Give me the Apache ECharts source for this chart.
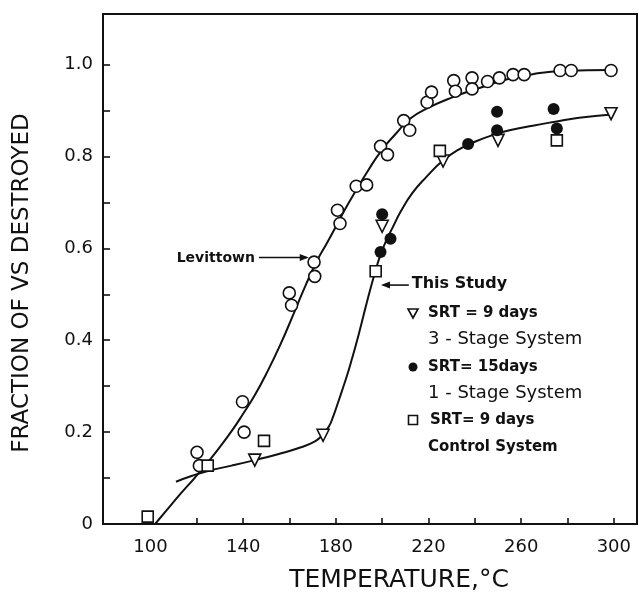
<!DOCTYPE html>
<html>
<head>
<meta charset="utf-8">
<script src="https://cdn.jsdelivr.net/npm/echarts@6/dist/echarts.min.js"></script>
<style>
  html, body { margin: 0; padding: 0; background: #fff; }
  #chart { width: 639px; height: 594px; }
</style>
</head>
<body>
<div id="chart"></div>
<script>
// Temperature (°C) vs fraction of volatile solids destroyed

// Levittown data (open circles)
const levittownPoints = [
  [120.1, 0.156], [121.1, 0.127], [139.7, 0.266], [140.4, 0.200],
  [159.9, 0.503], [160.9, 0.476], [170.6, 0.570], [170.9, 0.539],
  [180.7, 0.683], [181.8, 0.654], [188.8, 0.735], [193.3, 0.738],
  [199.3, 0.822], [202.3, 0.804], [209.3, 0.878], [211.9, 0.857],
  [219.4, 0.918], [221.3, 0.940], [230.9, 0.965], [231.6, 0.942],
  [238.8, 0.971], [238.8, 0.947], [245.5, 0.963], [250.6, 0.971],
  [256.5, 0.978], [261.3, 0.978], [276.8, 0.987], [281.6, 0.987],
  [298.8, 0.987]
];

// This study: SRT = 9 days, 3-stage system (triangles)
const threeStagePoints = [
  [145.0, 0.139], [174.5, 0.193], [200.0, 0.648], [226.3, 0.790],
  [250.0, 0.835], [298.8, 0.893]
];

// This study: SRT = 15 days, 1-stage system (filled circles)
const oneStagePoints = [
  [200.0, 0.674], [203.6, 0.621], [199.3, 0.592], [237.1, 0.827],
  [249.6, 0.897], [249.6, 0.857], [274.0, 0.903], [275.4, 0.861]
];

// This study: SRT = 9 days, control system (squares)
const controlPoints = [
  [98.8, 0.016], [124.7, 0.127], [149.0, 0.181], [197.2, 0.550],
  [224.9, 0.812], [275.4, 0.835]
];

// Fitted curves
const levittownCurve = [
  [102, 0.000], [107, 0.030], [113, 0.066], [119, 0.100], [125, 0.136],
  [130, 0.168], [135, 0.202], [140, 0.240], [145, 0.280], [150, 0.327],
  [156, 0.390], [162, 0.460], [167, 0.520], [172, 0.574], [176, 0.610],
  [180, 0.647], [184, 0.685], [188, 0.720], [194, 0.770], [200, 0.815],
  [206, 0.850], [212, 0.882], [220, 0.906], [230, 0.928], [242, 0.949],
  [254, 0.968], [265, 0.979], [278, 0.986], [299, 0.988]
];

const studyCurve = [
  [111, 0.092], [118, 0.105], [126, 0.117], [135, 0.127], [145, 0.139],
  [155, 0.152], [165, 0.167], [171, 0.180], [174, 0.192], [177, 0.212],
  [179, 0.236], [181, 0.265], [183, 0.295], [185, 0.326], [187, 0.360],
  [189, 0.396], [191, 0.435], [193, 0.475], [195, 0.513], [197, 0.549],
  [199, 0.582], [201.5, 0.614], [204.5, 0.645], [208, 0.680], [213, 0.720],
  [219, 0.755], [226, 0.790], [233, 0.815], [240, 0.832], [248, 0.847],
  [256, 0.858], [265, 0.867], [274, 0.875], [285, 0.884], [299, 0.891]
];

// Axis ticks and labels
const xTicks = [100, 120, 140, 160, 180, 200, 220, 240, 260, 280, 300];
const xLabels = [100, 140, 180, 220, 260, 300];
const yTicks = [0.1, 0.2, 0.3, 0.4, 0.5, 0.6, 0.7, 0.8, 0.9, 1.0];
const yLabels = [0, 0.2, 0.4, 0.6, 0.8, 1.0];

const FONT = 'DejaVu Sans';
const INK = '#111';

const chart = echarts.init(document.getElementById('chart'), null, { renderer: 'canvas' });

const openStyle = { color: '#fff', borderColor: INK, borderWidth: 1.6, opacity: 1 };

chart.setOption({
  animation: false,
  backgroundColor: '#fff',
  grid: {
    left: 103, right: 2, top: 14, bottom: 70,
    show: true, borderColor: INK, borderWidth: 2, backgroundColor: 'transparent'
  },
  xAxis: {
    type: 'value', min: 79.5, max: 310,
    axisLine: { show: true, lineStyle: { color: INK, width: 2 } },
    axisTick: { show: true, inside: true, length: 6, customValues: xTicks, lineStyle: { color: INK, width: 1.6 } },
    axisLabel: { customValues: xLabels, margin: 14, color: INK, fontFamily: FONT, fontSize: 18 },
    splitLine: { show: false }
  },
  yAxis: {
    type: 'value', min: 0, max: 1.11,
    axisLine: { show: true, lineStyle: { color: INK, width: 2 } },
    axisTick: { show: true, inside: true, length: 7, customValues: yTicks, lineStyle: { color: INK, width: 1.6 } },
    axisLabel: {
      customValues: yLabels, margin: 10, color: INK, fontFamily: FONT, fontSize: 18,
      formatter: v => (v === 0 ? '0' : v.toFixed(1))
    },
    splitLine: { show: false }
  },
  series: [
    { name: 'Levittown curve', type: 'line', data: levittownCurve, smooth: true, showSymbol: false,
      lineStyle: { color: INK, width: 2 }, z: 2 },
    { name: 'This Study curve', type: 'line', data: studyCurve, smooth: true, showSymbol: false,
      lineStyle: { color: INK, width: 2 }, z: 2 },
    { name: 'Levittown', type: 'scatter', data: levittownPoints, symbol: 'circle', symbolSize: 12,
      itemStyle: openStyle, z: 5 },
    { name: 'SRT = 9 days, 3-Stage System', type: 'scatter', data: threeStagePoints, symbol: 'triangle',
      symbolRotate: 180, symbolSize: 12, itemStyle: openStyle, z: 5 },
    { name: 'SRT = 15 days, 1-Stage System', type: 'scatter', data: oneStagePoints, symbol: 'circle',
      symbolSize: 12, itemStyle: { color: INK, opacity: 1 }, z: 6 },
    { name: 'SRT = 9 days, Control System', type: 'scatter', data: controlPoints, symbol: 'rect',
      symbolSize: 11, itemStyle: openStyle, z: 5 }
  ]
});

// Annotations: arrows anchored on the curves, key text beside them
const px = p => chart.convertToPixel({ gridIndex: 0 }, p);
const levTip = px([168.3, 0.58]);
const levTail = px([146.8, 0.58]);
const studyTip = px([199.5, 0.52]);
const studyTail = px([211.5, 0.52]);

const textStyle = (text, x, y, size, weight, align) => ({
  type: 'text', x, y,
  style: { text, fill: INK, font: `${weight} ${size}px "${FONT}"`, textAlign: align || 'left', textVerticalAlign: 'middle' }
});

const keyX = 428;
chart.setOption({
  graphic: [
    // axis titles
    textStyle('TEMPERATURE,°C', 399, 580, 25, 'normal', 'center'),
    { type: 'text', x: 22, y: 283, rotation: Math.PI / 2,
      style: { text: 'FRACTION OF VS DESTROYED', fill: INK, font: `normal 23px "${FONT}"`, textAlign: 'center', textVerticalAlign: 'middle' } },
    // Levittown arrow
    { type: 'line', shape: { x1: levTail[0], y1: levTail[1], x2: levTip[0] - 2, y2: levTip[1] }, style: { stroke: INK, lineWidth: 1.6 } },
    { type: 'polygon', shape: { points: [[levTip[0], levTip[1]], [levTip[0] - 9, levTip[1] - 3.5], [levTip[0] - 9, levTip[1] + 3.5]] }, style: { fill: INK } },
    textStyle('Levittown', levTail[0] - 4, levTip[1] + 1, 14, 'bold', 'right'),
    // This Study arrow
    { type: 'line', shape: { x1: studyTip[0] + 2, y1: studyTip[1], x2: studyTail[0], y2: studyTail[1] }, style: { stroke: INK, lineWidth: 1.6 } },
    { type: 'polygon', shape: { points: [[studyTip[0], studyTip[1]], [studyTip[0] + 9, studyTip[1] - 3.5], [studyTip[0] + 9, studyTip[1] + 3.5]] }, style: { fill: INK } },
    textStyle('This Study', studyTail[0] + 3, studyTip[1] - 1, 16, 'bold'),
    // key entries
    { type: 'polygon', shape: { points: [[408, 309], [418, 309], [413, 318]] }, style: { fill: '#fff', stroke: INK, lineWidth: 1.6 } },
    textStyle('SRT = 9 days', keyX, 313, 15, 'bold'),
    textStyle('3 - Stage System', keyX, 339, 18, 'normal'),
    { type: 'circle', shape: { cx: 413, cy: 367, r: 4.5 }, style: { fill: INK } },
    textStyle('SRT= 15days', keyX, 367, 15, 'bold'),
    textStyle('1 - Stage System', keyX, 393, 18, 'normal'),
    { type: 'rect', shape: { x: 408.5, y: 415.5, width: 9, height: 9 }, style: { fill: '#fff', stroke: INK, lineWidth: 1.6 } },
    textStyle('SRT= 9 days', keyX + 2, 420, 15, 'bold'),
    textStyle('Control System', keyX, 447, 15, 'bold')
  ]
});
</script>
</body>
</html>
